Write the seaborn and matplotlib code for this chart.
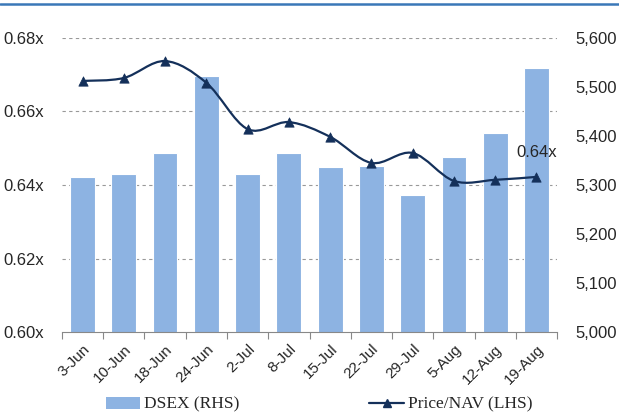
import numpy as np
import pandas as pd
import seaborn as sns
import matplotlib.pyplot as plt
from matplotlib.path import Path
from matplotlib.patches import PathPatch, Patch
from matplotlib.lines import Line2D

# data
weeks = ["3-Jun", "10-Jun", "18-Jun", "24-Jun", "2-Jul", "8-Jul",
         "15-Jul", "22-Jul", "29-Jul", "5-Aug", "12-Aug", "19-Aug"]
dsex = [5316, 5322, 5365, 5522, 5322, 5365, 5337, 5339, 5280, 5357, 5406, 5539]
price_nav = [0.6683, 0.6691, 0.6737, 0.6678, 0.6552, 0.6571,
             0.6531, 0.6460, 0.6487, 0.6411, 0.6414, 0.6422]
left_ticks = [0.60, 0.62, 0.64, 0.66, 0.68]
right_ticks = [5000, 5100, 5200, 5300, 5400, 5500, 5600]

df = pd.DataFrame({"week": weeks, "dsex": dsex, "pnav": price_nav})

sns.set_style("white")
plt.rcParams["font.family"] = ["Liberation Sans", "DejaVu Sans"]

bar_col = "#8DB3E2"
line_col = "#14305A"

fig = plt.figure(figsize=(6.19, 4.12), dpi=100)
ax = fig.add_axes([0.100, 0.194, 0.800, 0.714])

# bars on the right-hand scale
sns.barplot(data=df, x="week", y="dsex", color=bar_col, width=0.6,
            edgecolor="white", linewidth=0.8, saturation=1, ax=ax, zorder=2)
ax.set_ylim(5000, 5600)
ax.set_xlim(-0.5, len(weeks) - 0.5)
ax.set_xlabel("")
ax.set_ylabel("")

# gridlines follow the left scale, drawn behind the bars
for t in left_ticks[1:]:
    ax.axhline(5000 + (t - 0.60) / 0.08 * 600, color="#999999",
               linestyle=(0, (3, 3)), linewidth=0.8, zorder=0)

ax.set_xticks(range(len(weeks)))
ax.set_xticklabels(weeks, rotation=45, ha="right", rotation_mode="anchor",
                   fontsize=11)
ax.tick_params(axis="x", which="major", length=0, pad=7)
ax.set_xticks(np.arange(-0.5, len(weeks), 1), minor=True)
ax.tick_params(axis="x", which="minor", length=5, color="#888888",
               width=0.8, bottom=True)
for s in ["top", "left", "right"]:
    ax.spines[s].set_visible(False)
ax.spines["bottom"].set_color("#888888")
ax.spines["bottom"].set_linewidth(0.8)

# line on the left-hand scale
ax2 = ax.twinx()
ax2.set_ylim(0.60, 0.68)
ax2.yaxis.tick_left()
ax2.set_yticks(left_ticks)
ax2.set_yticklabels([f"{v:.2f}x" for v in left_ticks], fontsize=12)
ax2.tick_params(axis="y", length=0, pad=13)
for s in ax2.spines.values():
    s.set_visible(False)

ax.yaxis.tick_right()
ax.set_yticks(right_ticks)
ax.set_yticklabels([f"{v:,}" for v in right_ticks], fontsize=12)
ax.tick_params(axis="y", length=0, pad=13)

# smoothed line (Catmull-Rom drawn as bezier segments)
xs = np.arange(len(weeks), dtype=float)
ys = np.array(price_nav)
P = np.column_stack([xs, ys])
Pe = np.vstack([P[0], P, P[-1]])
verts = [tuple(P[0])]
codes = [Path.MOVETO]
for i in range(len(P) - 1):
    p0, p1, p2, p3 = Pe[i], Pe[i + 1], Pe[i + 2], Pe[i + 3]
    c1 = p1 + (p2 - p0) / 6
    c2 = p2 - (p3 - p1) / 6
    verts += [tuple(c1), tuple(c2), tuple(p2)]
    codes += [Path.CURVE4] * 3
ax2.add_patch(PathPatch(Path(verts, codes), facecolor="none",
                        edgecolor=line_col, linewidth=1.6, zorder=3))
sns.scatterplot(x=xs, y=ys, marker="^", s=45, color=line_col,
                edgecolor=line_col, ax=ax2, zorder=4, legend=False)
ax2.annotate(f"{price_nav[-1]:.2f}x", (xs[-1], ys[-1]), xytext=(0, 12),
             textcoords="offset points", ha="center", va="bottom",
             fontsize=12)

handles = [Patch(facecolor=bar_col, edgecolor="none"),
           Line2D([0], [0], color=line_col, marker="^", markersize=6,
                  linewidth=1.6)]
fig.legend(handles, ["DSEX (RHS)", "Price/NAV (LHS)"], loc="lower center",
           bbox_to_anchor=(0.515, -0.025), ncol=2, frameon=False, borderpad=0.05,
           prop={"family": "Liberation Serif", "size": 12.5},
           columnspacing=7.5, handlelength=2.0, handletextpad=0.2)

# thin rule along the top of the figure
fig.add_artist(Line2D([0, 1], [0.99, 0.99], transform=fig.transFigure,
                      color="#3A78B8", linewidth=1.8))

fig.savefig("out.png", dpi=100)
